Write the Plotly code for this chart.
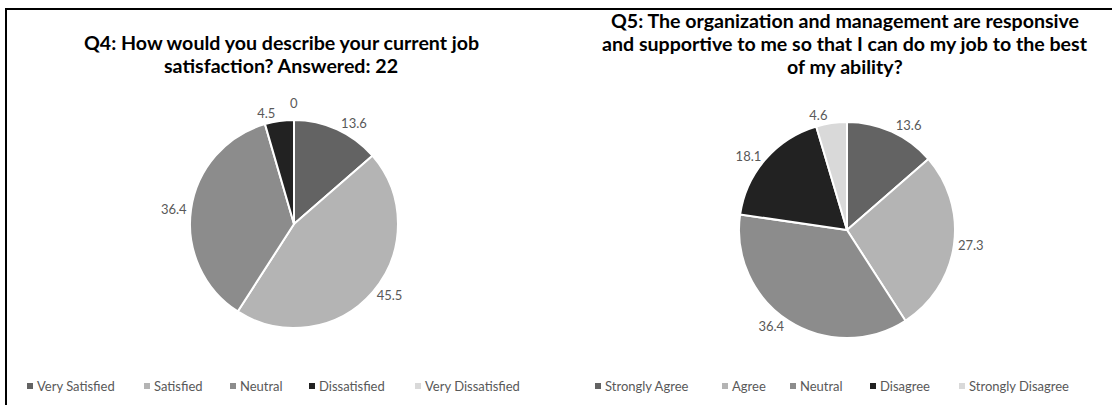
import plotly.graph_objects as go

q4_labels = ["Very Satisfied", "Satisfied", "Neutral", "Dissatisfied", "Very Dissatisfied"]
q4_values = [13.6, 45.5, 36.4, 4.5, 0]
q5_labels = ["Strongly Agree", "Agree", "Neutral", "Disagree", "Strongly Disagree"]
q5_values = [13.6, 27.3, 36.4, 18.1, 4.6]
colors = ["#636363", "#b4b4b4", "#8c8c8c", "#222222", "#d9d9d9"]

q4_title = ["Q4: How would you describe your current job", "satisfaction? Answered: 22"]
q5_title = ["Q5: The organization and management are responsive",
            "and supportive to me so that I can do my job to the best",
            "of my ability?"]

W, H = 1112, 405
FONT = "Lato, Calibri, sans-serif"
TXT = "#595959"

# pie geometry (pixels): centre x, centre y, radius
p1 = (294, 224, 104)
p2 = (847, 230, 108)


def dom(p):
    cx, cy, r = p
    return dict(x=[(cx - r) / W, (cx + r) / W], y=[(H - cy - r) / H, (H - cy + r) / H])


def fx(px):
    return px / W


def fy(py):
    return 1 - py / H


fig = go.Figure()

q4_tt = ["%{value}" if v != 0 else "" for v in q4_values]
fig.add_trace(go.Pie(
    labels=q4_labels, values=q4_values, sort=False, direction="clockwise", rotation=0,
    marker=dict(colors=colors, line=dict(color="white", width=2)),
    textposition="outside", texttemplate=q4_tt,
    textfont=dict(family=FONT, size=13, color=TXT),
    domain=dom(p1), showlegend=False, hoverinfo="label+value",
))
fig.add_trace(go.Pie(
    labels=q5_labels, values=q5_values, sort=False, direction="clockwise", rotation=0,
    marker=dict(colors=colors, line=dict(color="white", width=2)),
    textposition="outside", texttemplate="%{value}",
    textfont=dict(family=FONT, size=13, color=TXT),
    domain=dom(p2), showlegend=False, hoverinfo="label+value",
))

annotations = []
title_font = dict(family=FONT, size=19.6, color="#000000")
for line, y in zip(q4_title, [42, 65]):
    annotations.append(dict(text="<b>%s</b>" % line, x=fx(281), y=fy(y), xref="paper", yref="paper",
                            showarrow=False, font=title_font, xanchor="center", yanchor="middle"))
for line, y in zip(q5_title, [20, 43, 66]):
    annotations.append(dict(text="<b>%s</b>" % line, x=fx(845), y=fy(y), xref="paper", yref="paper",
                            showarrow=False, font=title_font, xanchor="center", yanchor="middle"))

# label for the zero-value slice (sits at the 12 o'clock boundary)
for lab, v in zip(q4_labels, q4_values):
    if v == 0:
        annotations.append(dict(text=str(v), x=fx(p1[0]), y=fy(p1[1] - p1[2] - 17), xref="paper", yref="paper",
                                showarrow=False, font=dict(family=FONT, size=13, color=TXT),
                                xanchor="center", yanchor="middle"))

shapes = [
    dict(type="line", xref="paper", yref="paper", x0=fx(5), x1=1, y0=fy(9), y1=fy(9),
         line=dict(color="#000000", width=2)),
    dict(type="line", xref="paper", yref="paper", x0=fx(6), x1=fx(6), y0=fy(9), y1=0,
         line=dict(color="#000000", width=2)),
]

# legends (marker centre x positions in px)
leg1_x = [30, 147, 233, 312, 418]
leg2_x = [598, 725, 793, 873, 962]
LEG_Y = 386
for labels, xs in [(q4_labels, leg1_x), (q5_labels, leg2_x)]:
    for lab, c, x in zip(labels, colors, xs):
        shapes.append(dict(type="rect", xref="paper", yref="paper", xsizemode="pixel", ysizemode="pixel",
                           xanchor=fx(x), yanchor=fy(LEG_Y), x0=-3, x1=3, y0=-3, y1=3,
                           fillcolor=c, line=dict(width=0)))
        annotations.append(dict(text=lab, x=fx(x + 5), y=fy(LEG_Y), xref="paper", yref="paper",
                                showarrow=False, font=dict(family=FONT, size=13, color=TXT),
                                xanchor="left", yanchor="middle"))

fig.update_layout(
    width=W, height=H, margin=dict(l=0, r=0, t=0, b=0),
    paper_bgcolor="white", plot_bgcolor="white",
    annotations=annotations, shapes=shapes, showlegend=False,
)

fig.write_html("out.html", config={"displayModeBar": False},
               post_script="document.body.style.margin='0';document.body.style.overflow='hidden';")
